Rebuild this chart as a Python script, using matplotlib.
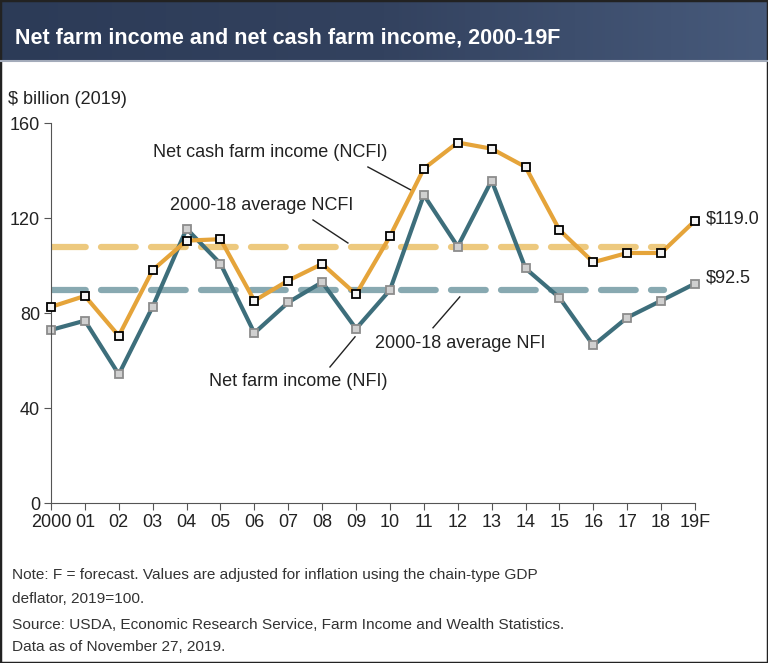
import numpy as np
import matplotlib.pyplot as plt
from matplotlib.colors import LinearSegmentedColormap
from matplotlib.patches import Rectangle

plt.rcParams['font.family'] = ['Liberation Sans', 'DejaVu Sans']
plt.rcParams['lines.scale_dashes'] = False

# Datos (miles de millones de dólares, 2019)
years = ['2000', '01', '02', '03', '04', '05', '06', '07', '08', '09',
         '10', '11', '12', '13', '14', '15', '16', '17', '18', '19F']
ncfi = [82.7, 87.3, 70.5, 98.2, 110.6, 111.2, 85.3, 93.8, 100.8, 88.0,
        112.4, 140.9, 151.9, 149.3, 141.6, 115.1, 101.5, 105.4, 105.4, 119.0]
nfi = [73.0, 76.9, 54.3, 82.8, 115.6, 100.9, 71.7, 84.6, 93.1, 73.5,
       89.8, 129.8, 108.1, 135.9, 98.9, 86.6, 66.5, 78.2, 85.3, 92.5]
avg_ncfi = 108.1
avg_nfi = 89.8

c_ncfi = '#E5A43A'
c_nfi = '#3D6E7B'

fig = plt.figure(figsize=(7.68, 6.63), dpi=100)

# Banda del título con degradado
tax = fig.add_axes([0, 1 - 61 / 663, 1, 61 / 663])
cmap = LinearSegmentedColormap.from_list('band', ['#2c3b57', '#33425f', '#475a7b'])
tax.imshow(np.linspace(0, 1, 256).reshape(1, -1), aspect='auto', cmap=cmap, extent=[0, 1, 0, 1])
tax.set_axis_off()
tax.text(15 / 768, 0.38, 'Net farm income and net cash farm income, 2000-19F',
         color='white', fontsize=15.5, fontweight='bold', va='center', ha='left',
         transform=tax.transAxes)
fig.add_artist(plt.Line2D([0, 1], [1 - 61 / 663, 1 - 61 / 663], color='#a3abba', lw=1.5))

ax = fig.add_axes([51 / 768, 1 - 503.3 / 663, (695 - 51) / 768, (503.3 - 123.3) / 663])
x = np.arange(len(years))

ax.plot([0, 18.1], [avg_ncfi, avg_ncfi], color='#EDC97E', lw=4.5, dashes=(25, 11), dash_capstyle='round', zorder=1)
ax.plot([0, 18.1], [avg_nfi, avg_nfi], color='#88A9B1', lw=4.5, dashes=(25, 11), dash_capstyle='round', zorder=1)

ax.plot(x, ncfi, color=c_ncfi, lw=3, marker='s', ms=5.5, mfc='#f4f4f4', mec='black', mew=1.3, zorder=3, clip_on=False)
ax.plot(x, nfi, color=c_nfi, lw=3, marker='s', ms=5.5, mfc='#d0d0d0', mec='#8c8c8c', mew=1.3, zorder=2, clip_on=False)

ax.set_xlim(0, 19)
ax.set_ylim(0, 160)
ax.set_xticks(x)
ax.set_xticklabels(years)
ax.set_yticks([0, 40, 80, 120, 160])
ax.tick_params(labelsize=13, length=5, color='#555555', labelcolor='#222222', pad=3)
for s in ['top', 'right']:
    ax.spines[s].set_visible(False)
for s in ['left', 'bottom']:
    ax.spines[s].set_color('#555555')

# Anotaciones
fs = 13
tc = '#222222'
ax.text(6.46, 147.9, 'Net cash farm income (NCFI)', fontsize=fs, color=tc, ha='center', va='center')
ax.plot([9.35, 10.62], [141.6, 131.9], color='#222222', lw=1)
ax.text(6.22, 125.2, '2000-18 average NCFI', fontsize=fs, color=tc, ha='center', va='center')
ax.plot([7.73, 8.76], [119.3, 109.6], color='#222222', lw=1)
ax.text(9.56, 67.1, '2000-18 average NFI', fontsize=fs, color=tc, ha='left', va='center')
ax.plot([11.27, 12.06], [73.9, 86.9], color='#222222', lw=1)
ax.text(7.29, 51.1, 'Net farm income (NFI)', fontsize=fs, color=tc, ha='center', va='center')
ax.plot([8.23, 8.97], [57.4, 70.1], color='#222222', lw=1)

ax.annotate(f'${ncfi[-1]:.1f}', (x[-1], ncfi[-1]), xytext=(8, 1), textcoords='offset points',
            fontsize=fs, color=tc, va='center', ha='left', annotation_clip=False)
ax.annotate(f'${nfi[-1]:.1f}', (x[-1], nfi[-1]), xytext=(8, 4), textcoords='offset points',
            fontsize=fs, color=tc, va='center', ha='left', annotation_clip=False)

fig.text(8 / 768, 1 - 100 / 663, '$ billion (2019)', fontsize=13, color=tc, va='center')

# Notas
notes = [(575, 'Note: F = forecast. Values are adjusted for inflation using the chain-type GDP'),
         (599, 'deflator, 2019=100.'),
         (625, 'Source: USDA, Economic Research Service, Farm Income and Wealth Statistics.'),
         (647, 'Data as of November 27, 2019.')]
for py, t in notes:
    fig.text(12 / 768, 1 - py / 663, t, fontsize=11.1, color='#333333', va='center')

# Marco
fig.add_artist(Rectangle((0, 0), 1, 1, transform=fig.transFigure, fill=False, ec='#222222', lw=2.5))

plt.savefig('out.png', dpi=100)
